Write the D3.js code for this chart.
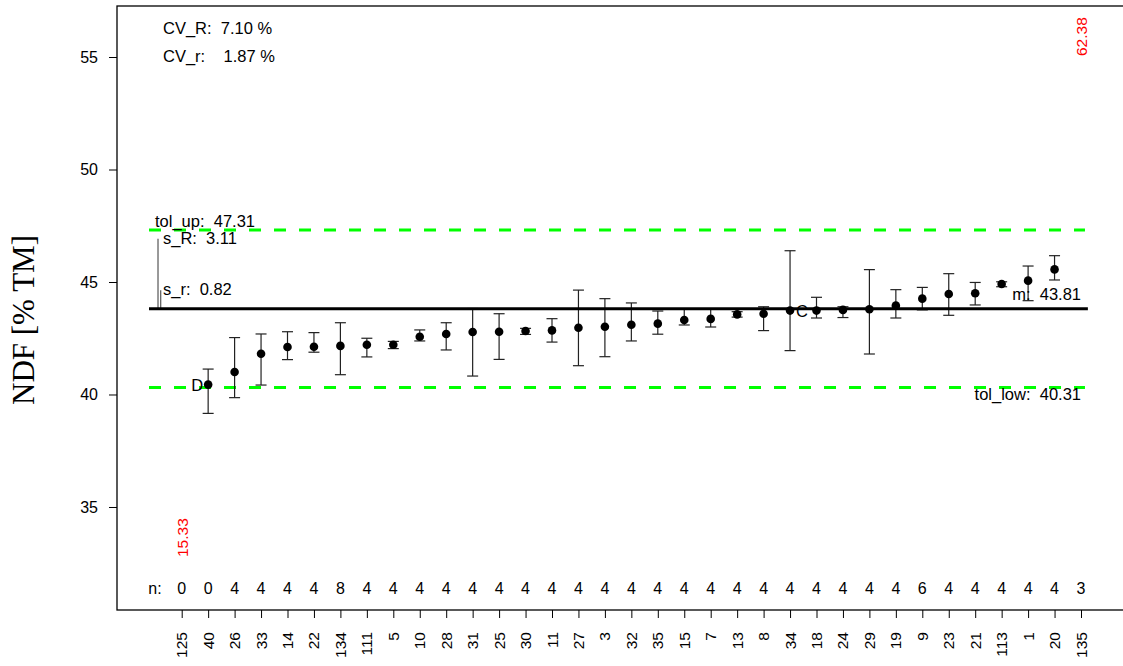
<!DOCTYPE html>
<html>
<head>
<meta charset="utf-8">
<script src="https://cdn.jsdelivr.net/npm/d3@7"></script>
<style>
  html, body { margin: 0; padding: 0; background: #fff; }
  svg text { font-family: "Liberation Sans", Arial, sans-serif; white-space: pre; }
</style>
</head>
<body>
<svg id="chart" width="1123" height="666"></svg>
<script>
// ---- data ----
const labs = ["125","40","26","33","14","22","134","111","5","10","28","31","25","30","11","27","3","32","35","15","7","13","8","34","18","24","29","19","9","23","21","113","1","20","135"];
const means = [15.33,40.44,41.00,41.81,42.11,42.12,42.16,42.21,42.21,42.57,42.69,42.78,42.79,42.82,42.85,42.97,43.01,43.10,43.15,43.31,43.36,43.56,43.59,43.73,43.73,43.76,43.79,43.95,44.26,44.47,44.50,44.91,45.06,45.56,62.38];
const lowers = [null,39.16,39.86,40.42,41.55,41.88,40.88,41.67,42.04,42.38,41.98,40.82,41.56,42.67,42.33,41.28,41.68,42.38,42.68,43.09,43.00,43.44,42.84,41.95,43.40,43.42,41.80,43.40,43.76,43.52,43.98,44.79,44.17,45.09,null];
const uppers = [null,41.13,42.53,42.69,42.79,42.75,43.19,42.50,42.36,42.87,43.19,43.82,43.59,42.94,43.37,44.64,44.26,44.07,43.71,43.80,43.80,43.68,43.90,46.39,44.32,43.90,45.55,44.66,44.76,45.37,44.98,45.01,45.71,46.17,null];
const nCounts = [0,0,4,4,4,4,8,4,4,4,4,4,4,4,4,4,4,4,4,4,4,4,4,4,4,4,4,4,6,4,4,4,4,4,3];
const yTicks = [35,40,45,50,55];
const meanAll = 43.81, tolUp = 47.31, tolLow = 40.31, sR = 3.11, sr = 0.82;
const cvR = "7.10", cvr = "1.87";
const markers = [{lab:"40", text:"D", side:"left"}, {lab:"34", text:"C", side:"right"}];

// ---- layout ----
const svg = d3.select("#chart");
const plotL = 117, plotT = 6, plotB = 610, plotR = 1145;
const x = d3.scalePoint().domain(labs).range([181.7, 1081]);
const xu = d3.scaleLinear().domain([1, labs.length]).range([181.7, 1081]);
const y = d3.scaleLinear().domain([30.422, 57.267]).range([plotB, plotT]);
const annSize = 16.5;

// frame
svg.append("rect").attr("x", plotL).attr("y", plotT).attr("width", plotR - plotL).attr("height", plotB - plotT)
  .attr("fill", "none").attr("stroke", "#000").attr("stroke-width", 1.3);

// y axis
const yAxis = svg.append("g").attr("transform", `translate(${plotL},0)`)
  .call(d3.axisLeft(y).tickValues(yTicks).tickSize(8).tickPadding(11).tickFormat(d3.format("d")));
yAxis.select(".domain").remove();
yAxis.selectAll("line").attr("stroke", "#000").attr("stroke-width", 1);
yAxis.selectAll("text").attr("font-size", 16).attr("font-family", "Liberation Sans, Arial, sans-serif").attr("fill", "#000");

// x axis
const xAxis = svg.append("g").attr("transform", `translate(0,${plotB})`)
  .call(d3.axisBottom(x).tickSize(8).tickFormat(() => ""));
xAxis.select(".domain").remove();
xAxis.selectAll("line").attr("stroke", "#000").attr("stroke-width", 1);
svg.append("g").selectAll("text").data(labs).join("text")
  .attr("transform", d => `translate(${x(d) + 5.5},${plotB + 22}) rotate(-90)`)
  .attr("text-anchor", "end").attr("font-size", 15.5).attr("fill", "#000").text(d => d);

// y label
svg.append("text").attr("transform", `translate(34,320) rotate(-90)`)
  .attr("text-anchor", "middle").attr("font-size", 31)
  .style("font-family", "'Liberation Serif', 'Times New Roman', serif")
  .text("NDF [% TM]");

// tolerance lines
const lineX0 = xu(-0.236), lineX1 = xu(35.26);
[tolUp, tolLow].forEach(v => {
  svg.append("line").attr("x1", lineX0).attr("x2", xu(35.15)).attr("y1", y(v)).attr("y2", y(v))
    .attr("stroke", "#00ff00").attr("stroke-width", 3).attr("stroke-dasharray", "12,13");
});

// s_R / s_r bars
svg.append("line").attr("x1", lineX0 + 9).attr("x2", lineX0 + 9).attr("y1", y(meanAll)).attr("y2", y(meanAll + sR))
  .attr("stroke", "#555").attr("stroke-width", 1.2);
svg.append("line").attr("x1", lineX0 + 11.7).attr("x2", lineX0 + 11.7).attr("y1", y(meanAll)).attr("y2", y(meanAll + sr))
  .attr("stroke", "#555").attr("stroke-width", 1.2);

// error bars
const eb = labs.map((l, i) => ({lab: l, m: means[i], lo: lowers[i], hi: uppers[i]})).filter(d => d.lo != null);
const g = svg.append("g");
g.selectAll("line.v").data(eb).join("line").attr("class", "v")
  .attr("x1", d => x(d.lab)).attr("x2", d => x(d.lab)).attr("y1", d => y(d.lo)).attr("y2", d => y(d.hi))
  .attr("stroke", "#222").attr("stroke-width", 1.2);
["lo", "hi"].forEach(k => {
  g.selectAll("line." + k).data(eb).join("line").attr("class", k)
    .attr("x1", d => x(d.lab) - 5.5).attr("x2", d => x(d.lab) + 5.5).attr("y1", d => y(d[k])).attr("y2", d => y(d[k]))
    .attr("stroke", "#222").attr("stroke-width", 1.2);
});

// mean line
svg.append("line").attr("x1", lineX0).attr("x2", lineX1).attr("y1", y(meanAll)).attr("y2", y(meanAll))
  .attr("stroke", "#000").attr("stroke-width", 3);

// points
const [dMin, dMax] = y.domain();
const pts = labs.map((l, i) => ({lab: l, m: means[i]}));
svg.append("g").selectAll("circle").data(pts.filter(d => d.m >= dMin && d.m <= dMax)).join("circle")
  .attr("cx", d => x(d.lab)).attr("cy", d => y(d.m)).attr("r", 4.3).attr("fill", "#000");

// out of range values
svg.append("g").selectAll("text").data(pts.filter(d => d.m < dMin || d.m > dMax)).join("text")
  .attr("transform", d => `translate(${x(d.lab) + 5.8},${d.m < dMin ? plotB - 53 : plotT + 50}) rotate(-90)`)
  .attr("text-anchor", "start").attr("font-size", 15.5).attr("fill", "#ff0000").text(d => d.m.toFixed(2));

// markers C / D
markers.forEach(mk => {
  const i = labs.indexOf(mk.lab);
  svg.append("text").attr("x", mk.side === "left" ? x(mk.lab) - 5 : x(mk.lab) + 6)
    .attr("y", y(means[i]) + 6.5).attr("text-anchor", mk.side === "left" ? "end" : "start")
    .attr("font-size", 16.5).text(mk.text);
});

// n row
svg.append("text").attr("x", 155).attr("y", 594).attr("text-anchor", "middle").attr("font-size", 16).text("n:");
svg.append("g").selectAll("text").data(labs.map((l, i) => ({lab: l, n: nCounts[i]}))).join("text")
  .attr("x", d => x(d.lab)).attr("y", 594).attr("text-anchor", "middle").attr("font-size", 16).text(d => d.n);

// annotations
const annX = 163;
svg.append("text").attr("x", annX).attr("y", 34).attr("font-size", annSize).text(`CV_R:  ${cvR} %`);
svg.append("text").attr("x", annX).attr("y", 62).attr("font-size", annSize).text(`CV_r:    ${cvr} %`);
svg.append("text").attr("x", 155).attr("y", y(tolUp) - 3).attr("font-size", annSize).text(`tol_up:  ${tolUp.toFixed(2)}`);
svg.append("text").attr("x", annX).attr("y", y(meanAll + sR) + 5).attr("font-size", annSize).text(`s_R:  ${sR.toFixed(2)}`);
svg.append("text").attr("x", annX).attr("y", y(meanAll + sr) + 5).attr("font-size", annSize).text(`s_r:  ${sr.toFixed(2)}`);
svg.append("text").attr("x", x(labs[labs.length - 1])).attr("y", y(meanAll) - 9).attr("text-anchor", "end").attr("font-size", annSize).text(`m:  ${meanAll.toFixed(2)}`);
svg.append("text").attr("x", x(labs[labs.length - 1])).attr("y", y(tolLow) + 12).attr("text-anchor", "end").attr("font-size", annSize).text(`tol_low:  ${tolLow.toFixed(2)}`);
</script>
</body>
</html>
